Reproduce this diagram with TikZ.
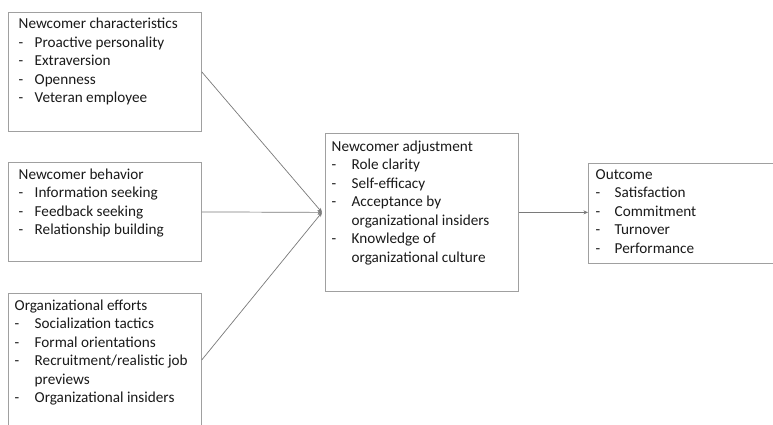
\documentclass[tikz,border=0pt]{standalone}
\usepackage{fontspec}
\setmainfont{Carlito}
\usetikzlibrary{arrows.meta}
\definecolor{boxgray}{HTML}{A0A0A0}
\definecolor{linegray}{HTML}{7A7A7A}
\definecolor{txt}{HTML}{1A1A1A}
\newcommand{\itm}[1]{-&#1\\}
\begin{document}
\begin{tikzpicture}[x=1pt,y=-1pt,
  box/.style={draw=boxgray, line width=0.8pt, anchor=north west, inner sep=0pt, fill=white},
  lbl/.style={anchor=base west, inner sep=0pt, text=txt, font=\fontsize{15.2}{18.5}\selectfont},
  conn/.style={draw=linegray, line width=0.7pt, -{Stealth[length=4.5pt,width=4pt]}}]
\useasboundingbox (0,0) rectangle (773,425);
\clip (0,0) rectangle (773,425);
\fill[white] (0,0) rectangle (773,425);

\node[box, minimum width=193pt, minimum height=119pt] (b1) at (8,12) {};
\node[box, minimum width=193pt, minimum height=99pt] (b2) at (8,162) {};
\node[box, minimum width=193pt, minimum height=133pt] (b3) at (8,293) {};
\node[box, minimum width=193pt, minimum height=158pt] (b4) at (325,133) {};
\node[box, minimum width=200pt, minimum height=100pt] (b5) at (588,163) {};

\node[lbl] (t1) at (18.5,29) {\begin{tabular}[t]{@{}p{16pt}@{}l@{}}
\multicolumn{2}{@{}l@{}}{Newcomer characteristics}\\
\itm{Proactive personality}
\itm{Extraversion}
\itm{Openness}
\itm{Veteran employee}
\end{tabular}};

\node[lbl] (t2) at (18.5,179) {\begin{tabular}[t]{@{}p{16pt}@{}l@{}}
\multicolumn{2}{@{}l@{}}{Newcomer behavior}\\
\itm{Information seeking}
\itm{Feedback seeking}
\itm{Relationship building}
\end{tabular}};

\node[lbl] (t3) at (14.5,310) {\begin{tabular}[t]{@{}p{20pt}@{}l@{}}
\multicolumn{2}{@{}l@{}}{Organizational efforts}\\
\itm{Socialization tactics}
\itm{Formal orientations}
\itm{Recruitment/realistic job}
&previews\\
\itm{Organizational insiders}
\end{tabular}};

\node[lbl] (t4) at (331.5,151) {\begin{tabular}[t]{@{}p{20pt}@{}l@{}}
\multicolumn{2}{@{}l@{}}{Newcomer adjustment}\\
\itm{Role clarity}
\itm{Self-efficacy}
\itm{Acceptance by}
&organizational insiders\\
\itm{Knowledge of}
&organizational culture\\
\end{tabular}};

\node[lbl] (t5) at (595.5,179) {\begin{tabular}[t]{@{}p{19pt}@{}l@{}}
\multicolumn{2}{@{}l@{}}{Outcome}\\
\itm{Satisfaction}
\itm{Commitment}
\itm{Turnover}
\itm{Performance}
\end{tabular}};

\coordinate (m) at ([xshift=-3pt]b4.west);
\draw[conn] (b1.east) -- (m);
\draw[conn] (b2.east) -- (m);
\draw[conn] (b3.east) -- (m);
\draw[conn] (b4.east) -- (b4.east -| b5.west);
\end{tikzpicture}
\end{document}
